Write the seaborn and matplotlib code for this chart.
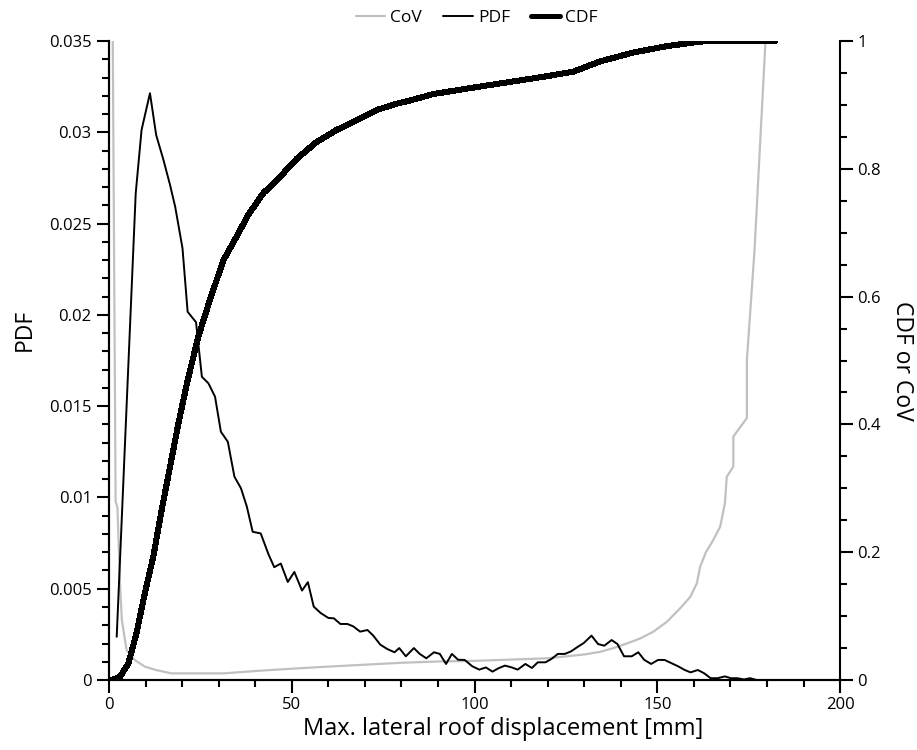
import numpy as np
import pandas as pd
import matplotlib
matplotlib.use("Agg")
import matplotlib.pyplot as plt
from matplotlib.ticker import MultipleLocator, FuncFormatter
from matplotlib.lines import Line2D
import seaborn as sns

# PDF of max. lateral roof displacement
pdf_x = [2.1, 7.3, 8.9, 11.2, 12.9, 14.9, 16.7, 18.1, 20.1, 21.5, 23.8, 25.4, 27.2, 29.0,
         30.6, 32.5, 34.3, 36.1, 37.7, 39.3, 41.5, 43.6, 45.2, 47.0, 48.9, 50.7, 52.8, 54.4,
         56.0, 57.9, 60.0, 61.5, 63.3, 65.2, 66.8, 68.7, 70.7, 72.3, 74.2, 76.1, 78.1, 79.4,
         81.2, 83.4, 85.0, 86.8, 88.9, 90.5, 92.2, 93.8, 95.5, 97.3, 99.4, 101.3, 103.1, 104.9,
         106.5, 108.3, 110.2, 111.8, 113.9, 115.7, 117.3, 119.4, 121.0, 122.8, 124.7, 126.4,
         128.1, 129.9, 132.0, 133.8, 135.5, 137.5, 139.1, 140.9, 143.0, 144.8, 146.4, 148.3,
         150.2, 152.0, 153.8, 155.7, 157.5, 159.1, 161.1, 162.8, 164.6, 166.5, 168.5, 170.1,
         171.9, 173.7, 175.4, 177.2, 181.1]
pdf_y = [0.00237, 0.02666, 0.03013, 0.03214, 0.02985, 0.02848, 0.02711, 0.02592, 0.02365,
         0.02017, 0.01960, 0.01661, 0.01625, 0.01552, 0.01360, 0.01305, 0.01114, 0.01050,
         0.00950, 0.00812, 0.00803, 0.00690, 0.00618, 0.00638, 0.00537, 0.00592, 0.00490,
         0.00536, 0.00402, 0.00367, 0.00340, 0.00338, 0.00307, 0.00307, 0.00294, 0.00265,
         0.00274, 0.00243, 0.00194, 0.00170, 0.00152, 0.00175, 0.00130, 0.00175, 0.00143,
         0.00119, 0.00152, 0.00143, 0.00088, 0.00143, 0.00111, 0.00110, 0.00075, 0.00057,
         0.00069, 0.00046, 0.00064, 0.00079, 0.00069, 0.00057, 0.00088, 0.00066, 0.00097,
         0.00097, 0.00115, 0.00143, 0.00143, 0.00157, 0.00180, 0.00203, 0.00243, 0.00197,
         0.00188, 0.00219, 0.00197, 0.00130, 0.00130, 0.00152, 0.00111, 0.00088, 0.00110,
         0.00110, 0.00093, 0.00075, 0.00055, 0.00042, 0.00055, 0.00037, 0.00010, 0.00010,
         0.00020, 0.00010, 0.00010, 0.00003, 0.00010, 0.0, 0.0]

# CDF
cdf_x = [0.7, 3.0, 5.3, 7.5, 9.8, 12.1, 14.4, 16.7, 19.0, 21.3, 24.4, 27.6, 31.3, 34.9,
         38.1, 42.2, 45.9, 51.4, 56.8, 62.3, 67.8, 73.2, 78.7, 82.4, 88.7, 100.6, 109.7,
         118.8, 127.0, 134.3, 143.4, 152.6, 161.7, 164.4, 182.2]
cdf_y = [0.0, 0.005, 0.026, 0.073, 0.136, 0.193, 0.266, 0.334, 0.402, 0.464, 0.537, 0.595,
         0.657, 0.694, 0.728, 0.762, 0.782, 0.816, 0.842, 0.861, 0.876, 0.892, 0.902, 0.907,
         0.917, 0.928, 0.936, 0.944, 0.952, 0.968, 0.982, 0.992, 0.999, 1.0, 1.0]

# coefficient of variation
cov_x = [0.7, 1.8, 2.3, 3.0, 3.5, 4.8, 7.1, 9.8, 12.6, 17.1, 31.3, 41.3, 50.9, 60.0, 70.0,
         80.0, 90.0, 100.0, 110.0, 120.0, 130.0, 134.3, 138.0, 141.6, 145.3, 148.9, 152.6,
         156.2, 159.0, 160.8, 161.7, 163.3, 165.3, 167.2, 168.5, 169.0, 170.8, 170.8, 174.5,
         174.5, 176.6, 179.6, 180.5]
cov_y = [1.3, 0.28, 0.27, 0.151, 0.094, 0.047, 0.031, 0.021, 0.016, 0.0104, 0.0104, 0.0146,
         0.018, 0.021, 0.024, 0.027, 0.029, 0.030, 0.032, 0.034, 0.040, 0.044, 0.050, 0.057,
         0.065, 0.0756, 0.091, 0.112, 0.130, 0.151, 0.177, 0.200, 0.219, 0.240, 0.277, 0.318,
         0.334, 0.381, 0.410, 0.500, 0.673, 1.0, 1.1]

df_pdf = pd.DataFrame({"x": pdf_x, "y": pdf_y})
df_cdf = pd.DataFrame({"x": cdf_x, "y": cdf_y})
df_cov = pd.DataFrame({"x": cov_x, "y": cov_y})

sns.set_style("ticks")
plt.rcParams["font.family"] = ["Open Sans", "DejaVu Sans"]
plt.rcParams["text.color"] = "black"
plt.rcParams["axes.labelcolor"] = "black"

fig = plt.figure(figsize=(9.17, 7.5), dpi=100)
ax = fig.add_axes([0.1189, 0.0933, 0.7972, 0.852])
ax2 = ax.twinx()

gray = "#c0c0c0"
sns.lineplot(data=df_cov, x="x", y="y", ax=ax2, color=gray, lw=1.6, sort=False,
             estimator=None)
sns.lineplot(data=df_cdf, x="x", y="y", ax=ax2, color="black", lw=3.6, sort=False,
             estimator=None, antialiased=False)
sns.lineplot(data=df_pdf, x="x", y="y", ax=ax, color="black", lw=1.4, sort=False,
             estimator=None)
ax.set_zorder(ax2.get_zorder() + 1)
ax.patch.set_visible(False)

ax.set_xlim(0, 200)
ax.set_ylim(0, 0.035)
ax2.set_ylim(0, 1)

ax.xaxis.set_major_locator(MultipleLocator(50))
ax.xaxis.set_minor_locator(MultipleLocator(10))
ax.yaxis.set_major_locator(MultipleLocator(0.005))
ax.yaxis.set_minor_locator(MultipleLocator(0.001))
ax2.yaxis.set_major_locator(MultipleLocator(0.2))
ax2.yaxis.set_minor_locator(MultipleLocator(0.05))
fmt = FuncFormatter(lambda v, p: "%g" % round(v, 6))
ax.yaxis.set_major_formatter(fmt)
ax2.yaxis.set_major_formatter(fmt)
ax.xaxis.set_major_formatter(fmt)

for a in (ax, ax2):
    a.tick_params(which="major", length=9, width=1.5, direction="out", labelsize=12,
                  colors="black")
    a.tick_params(which="minor", length=5, width=1.5, direction="out", colors="black")
    for s in a.spines.values():
        s.set_linewidth(1.5)
        s.set_color("black")
    a.spines["top"].set_visible(False)
ax.spines["right"].set_visible(False)

ax.set_xlabel("Max. lateral roof displacement [mm]", fontsize=17)
ax.set_ylabel("PDF", fontsize=16.5)
ax2.set_ylabel("CDF or CoV", fontsize=16.5, rotation=270, labelpad=24)
ax.xaxis.set_label_coords(0.539, -0.058)
ax.yaxis.set_label_coords(-0.099, 0.548)

handles = [Line2D([], [], color=gray, lw=1.6),
           Line2D([], [], color="black", lw=1.4),
           Line2D([], [], color="black", lw=3.6)]
fig.legend(handles, ["CoV", "PDF", "CDF"], loc="upper center", bbox_to_anchor=(0.52, 1.008),
           ncol=3, frameon=False, fontsize=12.5, handlelength=1.7, handletextpad=0.3,
           columnspacing=1.2)

fig.savefig("out.png", dpi=100)
